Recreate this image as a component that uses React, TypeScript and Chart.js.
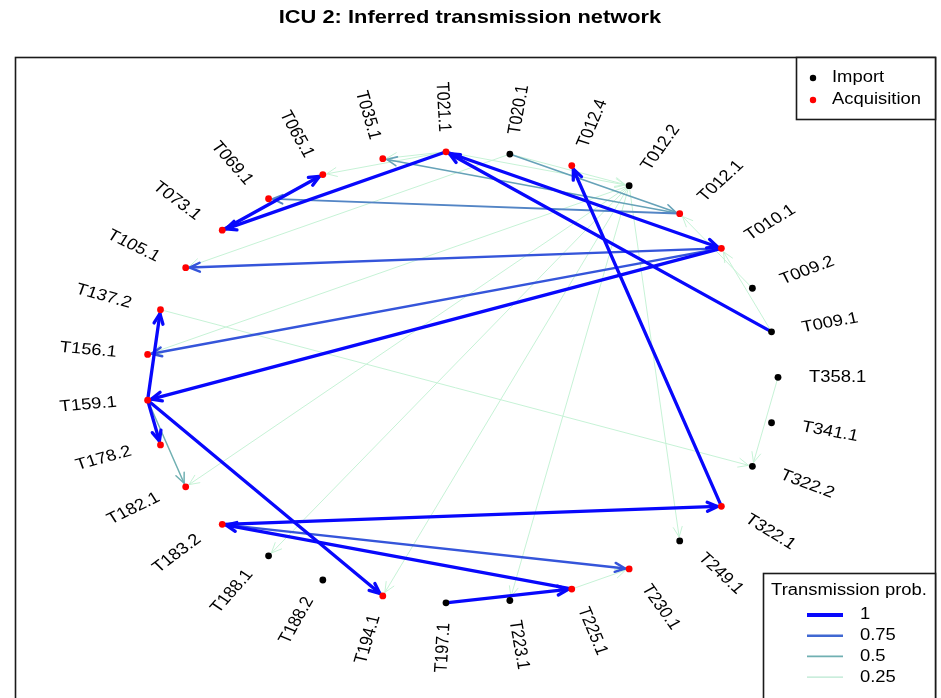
import React, { useEffect, useRef } from 'react';
import { Chart, registerables } from 'chart.js';

Chart.register(...registerables);

// ---------- data ----------
const chartTitle = 'ICU 2: Inferred transmission network';

const nodeNames = [
  'T009.1', 'T009.2', 'T010.1', 'T012.1', 'T012.2', 'T012.4', 'T020.1', 'T021.1',
  'T035.1', 'T065.1', 'T069.1', 'T073.1', 'T105.1', 'T137.2', 'T156.1', 'T159.1',
  'T178.2', 'T182.1', 'T183.2', 'T188.1', 'T188.2', 'T194.1', 'T197.1', 'T223.1',
  'T225.1', 'T230.1', 'T249.1', 'T322.1', 'T322.2', 'T341.1', 'T358.1',
];

const nodeStatus = [
  'Import', 'Import', 'Acquisition', 'Acquisition', 'Import', 'Acquisition', 'Import', 'Acquisition',
  'Acquisition', 'Acquisition', 'Acquisition', 'Acquisition', 'Acquisition', 'Acquisition', 'Acquisition', 'Acquisition',
  'Acquisition', 'Acquisition', 'Acquisition', 'Import', 'Import', 'Acquisition', 'Import', 'Import',
  'Acquisition', 'Acquisition', 'Import', 'Acquisition', 'Import', 'Import', 'Import',
];

const edgeFrom = [
  'T009.1', 'T021.1', 'T021.1', 'T073.1', 'T010.1', 'T159.1', 'T159.1', 'T159.1',
  'T322.1', 'T183.2', 'T225.1', 'T197.1',
  'T010.1', 'T010.1', 'T183.2',
  'T012.1', 'T012.1', 'T020.1', 'T159.1',
  'T012.2', 'T012.2', 'T012.2', 'T012.2', 'T012.2', 'T012.2',
  'T137.2', 'T358.1', 'T009.2', 'T009.1', 'T020.1', 'T225.1',
  'T021.1', 'T021.1', 'T021.1', 'T020.1',
];
const edgeTo = [
  'T021.1', 'T010.1', 'T073.1', 'T065.1', 'T159.1', 'T137.2', 'T178.2', 'T194.1',
  'T012.4', 'T322.1', 'T183.2', 'T225.1',
  'T105.1', 'T156.1', 'T230.1',
  'T069.1', 'T035.1', 'T012.1', 'T182.1',
  'T156.1', 'T182.1', 'T188.1', 'T194.1', 'T223.1', 'T249.1',
  'T322.2', 'T322.2', 'T012.1', 'T010.1', 'T105.1', 'T230.1',
  'T035.1', 'T065.1', 'T012.2', 'T012.2',
];
const edgeProb = [
  1, 1, 1, 1, 1, 1, 1, 1,
  1, 1, 1, 1,
  0.8, 0.8, 0.8,
  0.65, 0.55, 0.55, 0.5,
  0.2, 0.2, 0.2, 0.2, 0.2, 0.2,
  0.2, 0.2, 0.2, 0.2, 0.2, 0.2,
  0.2, 0.2, 0.2, 0.2,
];

const statusLabels = ['Import', 'Acquisition'];
const statusColors = ['#000000', '#FF0000'];

const probLegendTitle = 'Transmission prob.';
const probLegendValues = [1, 0.75, 0.5, 0.25];
const probLegendLabels = ['1', '0.75', '0.5', '0.25'];

// ---------- styling helpers ----------
const FONT = '"Liberation Sans", Arial, Helvetica, sans-serif';
const STRETCH = 1.15;

const rampStops: [number, number[]][] = [
  [0.2, [198, 242, 214]],
  [0.5, [112, 176, 178]],
  [0.75, [64, 104, 210]],
  [1.0, [8, 8, 252]],
];

function probColor(p: number): string {
  if (p <= rampStops[0][0]) return `rgb(${rampStops[0][1].join(',')})`;
  for (let i = 1; i < rampStops.length; i++) {
    const [p1, c1] = rampStops[i];
    const [p0, c0] = rampStops[i - 1];
    if (p <= p1) {
      const t = (p - p0) / (p1 - p0);
      const c = c0.map((v, k) => Math.round(v + (c1[k] - v) * t));
      return `rgb(${c.join(',')})`;
    }
  }
  return `rgb(${rampStops[rampStops.length - 1][1].join(',')})`;
}

function probWidth(p: number): number {
  return 0.9 + 2.4 * p * p;
}

function nodeAngle(i: number): number {
  return (2 * Math.PI * (i + 1)) / nodeNames.length;
}

function drawText(
  ctx: CanvasRenderingContext2D,
  text: string,
  x: number,
  y: number,
  angle: number,
  align: CanvasTextAlign,
  font: string,
) {
  ctx.save();
  ctx.translate(x, y);
  ctx.scale(STRETCH, 1);
  ctx.rotate(angle);
  ctx.font = font;
  ctx.fillStyle = '#000';
  ctx.textAlign = align;
  ctx.textBaseline = 'middle';
  ctx.fillText(text, 0, 0);
  ctx.restore();
}

const networkPlugin = {
  id: 'networkPlugin',
  beforeDatasetsDraw(chart: any) {
    const ctx: CanvasRenderingContext2D = chart.ctx;
    const xs = chart.scales.x;
    const ys = chart.scales.y;
    const pos = (name: string) => {
      const i = nodeNames.indexOf(name);
      const a = nodeAngle(i);
      return [xs.getPixelForValue(Math.cos(a)), ys.getPixelForValue(Math.sin(a))];
    };
    const order = edgeProb.map((_, i) => i).sort((a, b) => edgeProb[a] - edgeProb[b]);
    ctx.save();
    ctx.lineCap = 'round';
    ctx.lineJoin = 'round';
    for (const e of order) {
      const [x0, y0] = pos(edgeFrom[e]);
      const [x1, y1] = pos(edgeTo[e]);
      const dx = x1 - x0;
      const dy = y1 - y0;
      const len = Math.hypot(dx, dy);
      const ux = dx / len;
      const uy = dy / len;
      const sx = x0 + ux * 2;
      const sy = y0 + uy * 2;
      const ex = x1 - ux * 4;
      const ey = y1 - uy * 4;
      const p = edgeProb[e];
      ctx.strokeStyle = probColor(p);
      ctx.lineWidth = probWidth(p);
      ctx.beginPath();
      ctx.moveTo(sx, sy);
      ctx.lineTo(ex, ey);
      ctx.stroke();
      // open chevron arrow head
      const ah = 11;
      const spread = 0.42;
      const ang = Math.atan2(uy, ux);
      ctx.beginPath();
      ctx.moveTo(ex - ah * Math.cos(ang - spread), ey - ah * Math.sin(ang - spread));
      ctx.lineTo(ex, ey);
      ctx.lineTo(ex - ah * Math.cos(ang + spread), ey - ah * Math.sin(ang + spread));
      ctx.stroke();
    }
    ctx.restore();
  },
  afterDatasetsDraw(chart: any) {
    const ctx: CanvasRenderingContext2D = chart.ctx;
    const xs = chart.scales.x;
    const ys = chart.scales.y;
    const ca = chart.chartArea;

    // plot frame
    ctx.save();
    ctx.strokeStyle = '#1a1a1a';
    ctx.lineWidth = 1.6;
    ctx.strokeRect(ca.left + 0.5, ca.top + 0.5, ca.right - ca.left - 1, chart.height + 20);
    ctx.restore();

    // node labels
    const labelFont = `16px ${FONT}`;
    nodeNames.forEach((name, i) => {
      const a = nodeAngle(i);
      const c = Math.cos(a);
      const s = Math.sin(a);
      const px = xs.getPixelForValue(c);
      const py = ys.getPixelForValue(s);
      const lx = px + 31 * c;
      const ly = py - 20 * s;
      if (c >= -1e-9) {
        drawText(ctx, name, lx, ly, -a, 'left', labelFont);
      } else {
        drawText(ctx, name, lx, ly, Math.PI - a, 'right', labelFont);
      }
    });

    // title
    drawText(ctx, chartTitle, 470, 18, 0, 'center', `bold 19px ${FONT}`);

    // status legend
    const lx0 = 796;
    const ly0 = 57;
    ctx.save();
    ctx.fillStyle = '#fff';
    ctx.fillRect(lx0, ly0, 140, 62);
    ctx.strokeStyle = '#1a1a1a';
    ctx.lineWidth = 1.6;
    ctx.strokeRect(lx0 + 0.5, ly0 + 0.5, 139, 62);
    ctx.restore();
    statusLabels.forEach((lab, k) => {
      const yy = 78 + k * 22;
      ctx.save();
      ctx.fillStyle = statusColors[k];
      ctx.beginPath();
      ctx.arc(813, yy, 3.2, 0, Math.PI * 2);
      ctx.fill();
      ctx.restore();
      drawText(ctx, lab, 832, yy, 0, 'left', `16px ${FONT}`);
    });

    // probability legend
    const bx = 763;
    const by = 573;
    ctx.save();
    ctx.fillStyle = '#fff';
    ctx.fillRect(bx, by, 173, 140);
    ctx.strokeStyle = '#1a1a1a';
    ctx.lineWidth = 1.6;
    ctx.strokeRect(bx + 0.5, by + 0.5, 172, 140);
    ctx.restore();
    drawText(ctx, probLegendTitle, 849, 591, 0, 'center', `16px ${FONT}`);
    probLegendValues.forEach((p, k) => {
      const yy = 615 + k * 20.7;
      ctx.save();
      ctx.strokeStyle = probColor(p);
      ctx.lineWidth = probWidth(p) + (p === 1 ? 0.8 : 0.4);
      ctx.beginPath();
      ctx.moveTo(807, yy);
      ctx.lineTo(843, yy);
      ctx.stroke();
      ctx.restore();
      drawText(ctx, probLegendLabels[k], 860, yy, 0, 'left', `16px ${FONT}`);
    });
  },
};

export default function App() {
  const canvasRef = useRef<HTMLCanvasElement | null>(null);

  useEffect(() => {
    if (!canvasRef.current) return;
    const points = nodeNames.map((_, i) => ({
      x: Math.cos(nodeAngle(i)),
      y: Math.sin(nodeAngle(i)),
    }));
    const colors = nodeStatus.map((s) => statusColors[statusLabels.indexOf(s)]);
    const chart = new Chart(canvasRef.current, {
      type: 'scatter',
      data: {
        datasets: [
          {
            label: 'Cases',
            data: points,
            pointBackgroundColor: colors,
            pointBorderColor: colors,
            pointBorderWidth: 0,
            pointRadius: 3.4,
            pointHoverRadius: 3.4,
          },
        ],
      },
      options: {
        animation: false,
        responsive: false,
        maintainAspectRatio: false,
        events: [],
        layout: { padding: { left: 15, top: 57, right: 5, bottom: 0 } },
        plugins: {
          legend: { display: false },
          tooltip: { enabled: false },
          title: { display: false },
        },
        scales: {
          x: { type: 'linear', display: false, min: -447 / 316, max: 474 / 316 },
          y: { type: 'linear', display: false, min: -319 / 227, max: 322 / 227 },
        },
      },
      plugins: [networkPlugin],
    });
    return () => chart.destroy();
  }, []);

  return (
    <div style={{ position: 'absolute', left: 0, top: 0, width: 941, height: 698, background: '#fff' }}>
      <canvas ref={canvasRef} width={941} height={698} />
    </div>
  );
}
